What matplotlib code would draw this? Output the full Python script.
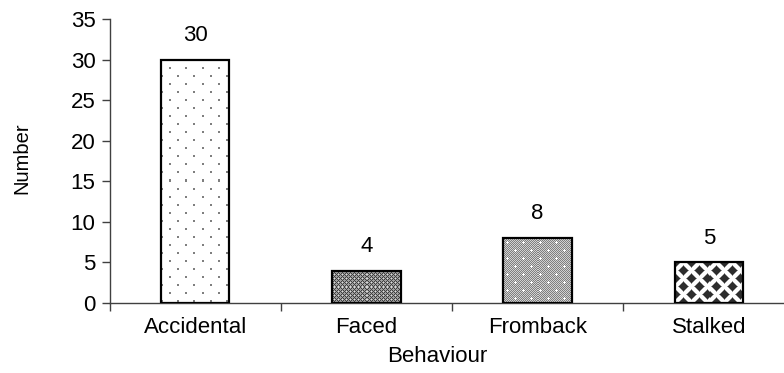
import numpy as np
import matplotlib
matplotlib.use("Agg")
import matplotlib.pyplot as plt

plt.rcParams['font.family'] = ['Liberation Sans', 'DejaVu Sans']

categories = ["Accidental", "Faced", "Fromback", "Stalked"]
counts = [30, 4, 8, 5]
y_ticks = [0, 5, 10, 15, 20, 25, 30, 35]

W, H, DPI = 784, 373, 100
fig = plt.figure(figsize=(W / DPI, H / DPI), dpi=DPI)
# axes run slightly past the right edge of the canvas
ax = fig.add_axes([109.5 / W, 70 / H, 685 / W, 284 / H])

x = np.arange(len(categories))
bars = ax.bar(x, counts, width=0.40, facecolor="none", edgecolor="black",
              linewidth=1.6, zorder=3)

FS = 16
ax.set_xlim(-0.5, len(categories) - 0.5)
ax.set_ylim(0, 35)
ax.set_yticks(y_ticks)
ax.set_xticks(x)
ax.set_xticklabels(categories)
ax.set_xticks(np.arange(-0.5, len(categories)), minor=True)
ax.tick_params(axis="x", which="major", length=0, pad=10, labelsize=FS)
ax.tick_params(axis="x", which="minor", length=6, width=1, color="#404040")
ax.tick_params(axis="y", length=6, width=1, color="#404040", pad=4, labelsize=FS)
for s in ("top", "right"):
    ax.spines[s].set_visible(False)
for s in ("left", "bottom"):
    ax.spines[s].set_color("#404040")
    ax.spines[s].set_linewidth(1.0)

fig.text(437 / W, 1 - 356 / H, "Behaviour", ha="center", va="center", fontsize=FS)
fig.text(22 / W, 1 - 158 / H, "Number", ha="center", va="center", rotation=90, fontsize=14.5)


def texture(kind, w, h):
    yy, xx = np.mgrid[0:h, 0:w]
    img = np.ones((h, w, 3))
    if kind == "dots":
        a = ((xx % 16 < 2) & (yy % 16 < 2)) | (((xx + 8) % 16 < 2) & ((yy + 8) % 16 < 2))
        img[a] = 0.5
    elif kind == "fine":
        g = np.full((h, w), 0.62)
        g[((xx + yy) % 4 == 0) | ((xx - yy) % 4 == 0)] = 0.25
        g[((xx % 4 == 2) & (yy % 4 == 0))] = 0.85
        img = np.dstack([g, g, g])
    elif kind == "greydots":
        g = np.where((xx + yy) % 2 == 0, 0.50, 0.82)
        cx = (xx % 16)
        cy = (yy % 16)
        p1 = ((cx == 4) & (np.abs(cy - 4) <= 1)) | ((cy == 4) & (np.abs(cx - 4) <= 1))
        p2 = ((cx == 12) & (np.abs(cy - 12) <= 1)) | ((cy == 12) & (np.abs(cx - 12) <= 1))
        g = np.where(p1 | p2, 1.0, g)
        img = np.dstack([g, g, g])
    elif kind == "diamonds":
        dx1 = np.abs(((xx + 8) % 16) - 8)
        dy1 = np.abs(((yy + 8) % 16) - 8)
        dx2 = np.abs((xx % 16) - 8)
        dy2 = np.abs((yy % 16) - 8)
        d = np.minimum(dx1 + dy1, dx2 + dy2)
        g = 0.18 + 0.82 * np.clip((d - 4.0) / 2.0, 0, 1)
        img = np.dstack([g, g, g])
    return img


fills = ["dots", "fine", "greydots", "diamonds"]
fig.canvas.draw()
for bar, kind in zip(bars, fills):
    bx, by, bw, bh = bar.get_x(), bar.get_y(), bar.get_width(), bar.get_height()
    (px0, py0), (px1, py1) = ax.transData.transform([(bx, by), (bx + bw, by + bh)])
    pw, ph = int(round(px1 - px0)), int(round(py1 - py0))
    im = ax.imshow(texture(kind, max(pw, 1), max(ph, 1)), extent=(bx, bx + bw, by, by + bh),
                   origin="upper", interpolation="nearest", aspect="auto", zorder=2)
    im.set_clip_path(bar)

ax.set_xlim(-0.5, len(categories) - 0.5)
ax.set_ylim(0, 35)

for bar, v in zip(bars, counts):
    ax.annotate(f"{v}", (bar.get_x() + bar.get_width() / 2, v), xytext=(0, 10),
                textcoords="offset points", ha="center", va="bottom", fontsize=FS)

fig.savefig("out.png", dpi=DPI)
